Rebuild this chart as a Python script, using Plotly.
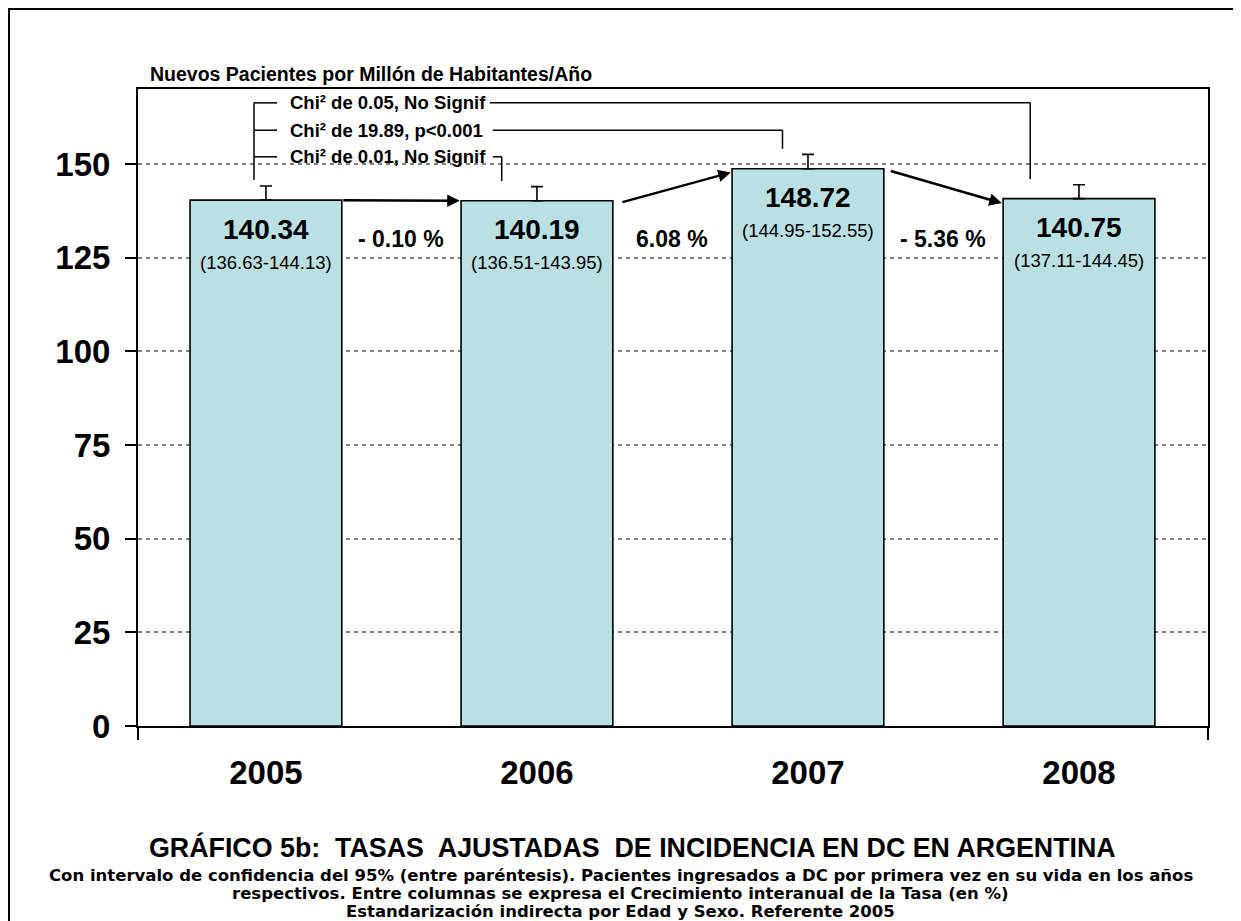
import plotly.graph_objects as go

# ---------------- data ----------------
years = ["2005", "2006", "2007", "2008"]
rates = [140.34, 140.19, 148.72, 140.75]
ci_low = [136.63, 136.51, 144.95, 137.11]
ci_high = [144.13, 143.95, 152.55, 144.45]
growth_labels = ["- 0.10 %", "6.08 %", "- 5.36 %"]
chi_labels = ["Chi² de 0.05, No Signif", "Chi² de 19.89, p<0.001", "Chi² de 0.01, No Signif"]
chi_targets = [3, 2, 1]          # bar compared with 2005
y_ticks = [0, 25, 50, 75, 100, 125, 150]

FONT = "Arial, Liberation Sans, sans-serif"
WIDE_FONT = "DejaVu Sans, Arial, sans-serif"
BAR_W = 0.56
xs = list(range(len(years)))

# plot-area geometry (figure pixels)
ML, MT, MR, MB = 130, 81, 41, 203
W, H = 1241, 921
PW, PH = W - ML - MR, H - MT - MB


def px_x(px):
    return (px - ML) / PW


def px_y(py):
    return (H - MB - py) / PH


fig = go.Figure()
fig.add_trace(go.Bar(
    x=xs, y=rates, width=BAR_W,
    marker=dict(color="#BBE0E3", line=dict(color="black", width=1.6)),
    error_y=dict(type="data", symmetric=False,
                 array=[h - r for h, r in zip(ci_high, rates)],
                 arrayminus=[0] * len(rates),
                 color="black", thickness=1.6, width=6),
    hoverinfo="skip", showlegend=False,
))

ann = []
# value + CI labels inside bars
for i, (r, lo, hi) in enumerate(zip(rates, ci_low, ci_high)):
    ann.append(dict(x=i, y=r, xref="x", yref="y", text=f"<b>{r:.2f}</b>",
                    showarrow=False, yanchor="middle", yshift=-29,
                    font=dict(family=FONT, size=28, color="black")))
    ann.append(dict(x=i, y=r, xref="x", yref="y", text=f"({lo:.2f}-{hi:.2f})",
                    showarrow=False, yanchor="middle", yshift=-62,
                    font=dict(family=FONT, size=18.5, color="black")))

# growth labels and arrows between bars
start_off = [0.0, 0.5, 0.5]
end_off = [0.0, 1.0, 1.2]
start_gap = [0.0, 0.03, 0.02]
for i, g in enumerate(growth_labels):
    ann.append(dict(x=i + 0.5, y=130, xref="x", yref="y", text=f"<b>{g}</b>",
                    showarrow=False, font=dict(family=FONT, size=23, color="black")))
    ann.append(dict(x=i + 1 - BAR_W / 2 - 0.005, y=rates[i + 1] - end_off[i],
                    xref="x", yref="y",
                    ax=i + BAR_W / 2 + start_gap[i], ay=rates[i] - start_off[i],
                    axref="x", ayref="y", text="", showarrow=True,
                    arrowhead=2, arrowsize=1, arrowwidth=2.5, arrowcolor="black",
                    standoff=0, startstandoff=0))

# chi-square brackets
shapes = []
line_style = dict(color="black", width=1.5)
bracket_x = -0.044
bracket_tick = 0.041
row_y = [166.3, 159.0, 151.9]
line_start = [0.826, 0.837, 0.837]
drop_off = [0.18, 0.094, 0.13]
shapes.append(dict(type="line", xref="x", yref="y", x0=bracket_x, x1=bracket_x,
                   y0=row_y[0], y1=ci_high[0] + 1.6, line=line_style))
for k, (lab, tgt) in enumerate(zip(chi_labels, chi_targets)):
    y = row_y[k]
    shapes.append(dict(type="line", xref="x", yref="y", x0=bracket_x, x1=bracket_tick,
                       y0=y, y1=y, line=line_style))
    ann.append(dict(x=0.081, y=y, xref="x", yref="y", text=f"<b>{lab}</b>",
                    showarrow=False, xanchor="left", yanchor="middle",
                    font=dict(family=FONT, size=18.5, color="black")))
    dx = tgt - drop_off[k]
    shapes.append(dict(type="line", xref="x", yref="y", x0=line_start[k], x1=dx,
                       y0=y, y1=y, line=line_style))
    shapes.append(dict(type="line", xref="x", yref="y", x0=dx, x1=dx,
                       y0=y, y1=ci_high[tgt] + 1.5, line=line_style))

# axis extension ticks below the category axis
for px in (0, 1):
    shapes.append(dict(type="line", xref="paper", yref="paper", x0=px, x1=px,
                       y0=0, y1=px_y(H - MB + 14), line=dict(color="black", width=2)))
# outer chart border (only top and left visible in the frame)
shapes.append(dict(type="rect", xref="paper", yref="paper",
                   x0=px_x(1), x1=px_x(W + 10), y0=px_y(1), y1=px_y(H + 10),
                   line=dict(color="black", width=2), fillcolor="rgba(0,0,0,0)"))

# y-axis title
ann.append(dict(x=px_x(140), y=1.0, xref="paper", yref="paper",
                text="<b>Nuevos Pacientes por Millón de Habitantes/Año</b>",
                showarrow=False, xanchor="left", yanchor="bottom", yshift=2,
                font=dict(family=FONT, size=19.5, color="black")))

# bottom titles
ann.append(dict(x=px_x(624), y=px_y(857), xref="paper", yref="paper",
                text="<b>GRÁFICO 5b:  TASAS  AJUSTADAS  DE INCIDENCIA EN DC EN ARGENTINA</b>",
                showarrow=False, font=dict(family=FONT, size=26.8, color="black")))
sub_lines = [
    "Con intervalo de confidencia del 95% (entre paréntesis). Pacientes ingresados a DC por primera vez en su vida en los años",
    "respectivos. Entre columnas se expresa el Crecimiento interanual de la Tasa (en %)",
    "Estandarización indirecta por Edad y Sexo. Referente 2005",
]
for k, s in enumerate(sub_lines):
    ann.append(dict(x=px_x(612.5), y=px_y(879 + 18 * k), xref="paper", yref="paper",
                    text=f"<b>{s}</b>", showarrow=False,
                    font=dict(family=WIDE_FONT, size=16.5, color="black")))

fig.update_layout(
    width=W, height=H,
    margin=dict(l=ML, r=MR, t=MT, b=MB, pad=0),
    paper_bgcolor="white", plot_bgcolor="white",
    annotations=ann, shapes=shapes,
    xaxis=dict(range=[-0.472, 3.476], tickvals=xs, ticktext=[f"<b>{y}</b>" for y in years],
               ticks="", showgrid=False, zeroline=False,
               showline=True, linecolor="black", linewidth=2, mirror=True,
               tickfont=dict(family=FONT, size=33, color="black"), ticklabelstandoff=16),
    yaxis=dict(range=[0, 170], tickvals=y_ticks, ticktext=[f"<b>{t}</b>" for t in y_ticks],
               ticks="outside", ticklen=11, tickwidth=2, tickcolor="black",
               showgrid=True, gridcolor="#808080", gridwidth=1.5, griddash="4px,4px",
               zeroline=False, showline=True, linecolor="black", linewidth=2, mirror=True,
               tickfont=dict(family=FONT, size=33, color="black"), ticklabelstandoff=8),
    font=dict(family=FONT, color="black"),
)

fig.write_html("out.html")
